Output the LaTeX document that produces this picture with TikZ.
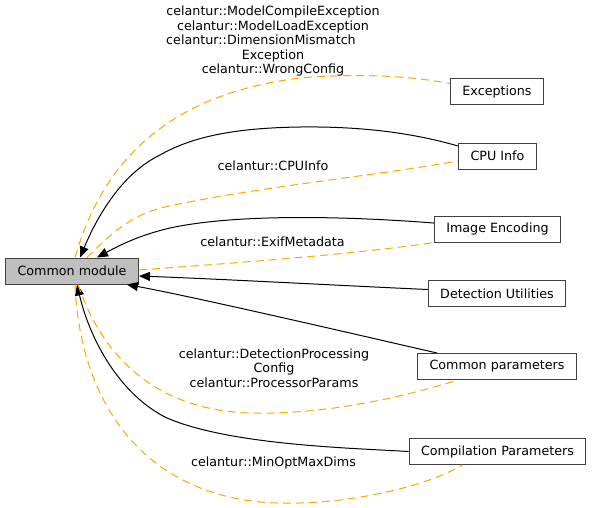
\documentclass[tikz,border=0pt]{standalone}
\usepackage{fontspec}
\setmainfont{DejaVu Sans}
\usepackage{xcolor}
\usepackage{tikz}
\usetikzlibrary{arrows.meta,positioning}

\definecolor{grpedge}{HTML}{404040}
\definecolor{grpfill}{HTML}{BFBFBF}
\definecolor{memorange}{HTML}{FFA500}

\begin{document}
\begin{tikzpicture}[
  x=1pt, y=-1pt,
  font=\fontsize{12.7}{14.5}\selectfont,
  grp/.style={draw=grpedge,line width=1pt,fill=white,inner xsep=12pt,minimum height=26pt,inner ysep=0pt},
  mainbox/.style={grp,fill=grpfill},
  dep/.style={line width=1pt,-{Triangle[length=11pt,width=9pt]}},
  member/.style={line width=1pt,draw=memorange,dash pattern=on 8pt off 5pt},
  lbl/.style={align=center,inner sep=0pt},
  >=Stealth
]
\useasboundingbox (0,0) rectangle (592,507);
% the group itself
\node[mainbox] (common) at (72,271) {Common module};
% sub groups, one column on the right
\node[grp] (exc)  at (497,91.5)  {Exceptions};
\node[grp] (cpu)  at (497.5,156) {CPU Info};
\node[grp] (img)  at (497.5,229) {Image Encoding};
\node[grp] (det)  at (497,293.5) {Detection Utilities};
\node[grp] (par)  at (497,366.5) {Common parameters};
\node[grp] (comp) at (497.5,451.5) {Compilation Parameters};
% member labels
\node[lbl] (lbexc) at (273,41) {celantur::ModelCompileException\\celantur::ModelLoadException\\celantur::DimensionMismatch\rule{24pt}{0pt}\\Exception\\celantur::WrongConfig};
\node[lbl] (lbcpu) at (273,166) {celantur::CPUInfo};
\node[lbl] (lbimg) at (272.5,242) {celantur::ExifMetadata};
\node[lbl] (lbpar) at (274,368) {celantur::DetectionProcessing\\Config\\celantur::ProcessorParams};
\node[lbl] (lbcomp) at (273.5,463) {celantur::MinOptMaxDims};
% Edges: sub groups
\draw[dep] ([yshift=10pt]cpu.west) .. controls (430,138) and (380,126) .. (300,127)
  .. controls (230,128) and (190,138) .. (160,155)
  .. controls (125,172) and (100,210) .. ([xshift=8pt]common.north);
\draw[dep] ([yshift=6pt]img.west) .. controls (330,215) and (230,215) .. (170,228)
  .. controls (140,235) and (120,245) .. ([xshift=25pt]common.north);
\draw[dep] ([yshift=4pt]det.west) .. controls (350,286) and (220,279) .. ([yshift=-5pt]common.east);
\draw[dep] ([xshift=20pt]par.north west) .. controls (380,340) and (200,298) .. ([xshift=-12pt]common.south east);
\draw[dep] (comp.west) .. controls (350,448) and (230,445) .. (167,418)
  .. controls (120,395) and (90,340) .. ([xshift=5pt]common.south);
% Edges: members
\draw[member] ([xshift=3pt]common.north) .. controls (100,170) and (160,95) .. (300,78)
  .. controls (370,72) and (420,78) .. ([yshift=8pt]exc.west);
\draw[member] ([xshift=15pt]common.north) .. controls (110,235) and (130,215) .. (165,207)
  .. controls (250,188) and (380,175) .. ([yshift=-5pt]cpu.west);
\draw[member] ([yshift=1pt]common.east) .. controls (220,264) and (350,255) .. (img.south west);
\draw[member] ([xshift=6pt]common.south) .. controls (100,350) and (150,410) .. (250,413)
  .. controls (330,415) and (410,395) .. ([xshift=41pt]par.south west);
\draw[member] ([xshift=3pt]common.south) .. controls (80,400) and (140,490) .. (260,502)
  .. controls (330,508) and (420,490) .. ([xshift=54pt]comp.south west);
\end{tikzpicture}
\end{document}
